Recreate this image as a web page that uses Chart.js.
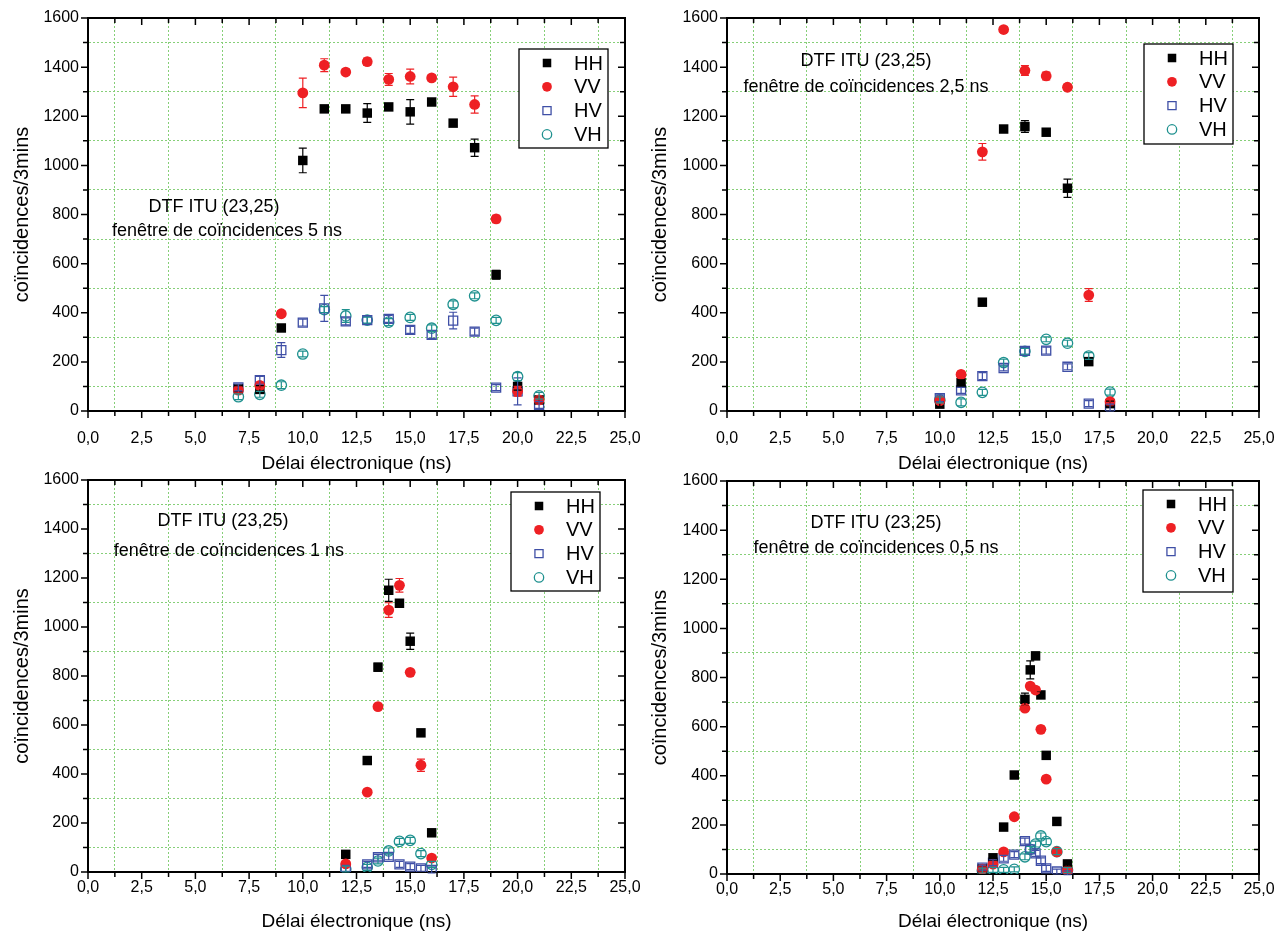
<!DOCTYPE html>
<html>
<head>
<meta charset="utf-8">
<script src="https://cdn.jsdelivr.net/npm/chart.js@4.4.0/dist/chart.umd.min.js"></script>
<style>
  body { margin: 0; background: #fff; width: 1277px; height: 935px; position: relative; overflow: hidden; }
  canvas { position: absolute; }
</style>
</head>
<body>
<canvas id="c1" width="645" height="480" style="left:0;top:0"></canvas>
<canvas id="c2" width="639" height="480" style="left:638px;top:0"></canvas>
<canvas id="c3" width="645" height="470" style="left:0;top:465px"></canvas>
<canvas id="c4" width="639" height="470" style="left:638px;top:465px"></canvas>
<script>
// --- data ---
const seriesNames = ['HH', 'VV', 'HV', 'VH'];

// window 5 ns
const p1X = [7, 8, 9, 10, 11, 12, 13, 14, 15, 16, 17, 18, 19, 20, 21];
const p1HH = [90, 88, 338, 1020, 1230, 1230, 1213, 1238, 1218, 1258, 1172, 1072, 555, 100, 45];
const p1HHerr = [12, 15, 12, 50, 12, 12, 38, 12, 50, 12, 12, 35, 18, 15, 12];
const p1VV = [85, 104, 396, 1295, 1408, 1380, 1422, 1350, 1362, 1356, 1320, 1248, 782, 80, 45];
const p1VVerr = [12, 14, 12, 60, 26, 12, 15, 24, 30, 12, 39, 35, 15, 20, 12];
const p1HV = [96, 125, 248, 360, 418, 365, 370, 375, 330, 310, 368, 323, 95, 80, 25];
const p1HVerr = [14, 16, 30, 14, 53, 14, 14, 14, 14, 14, 34, 14, 12, 55, 14];
const p1VH = [58, 68, 105, 232, 413, 387, 370, 362, 381, 337, 434, 469, 369, 140, 62];
const p1VHerr = [12, 12, 14, 12, 12, 26, 12, 14, 12, 14, 14, 12, 12, 16, 14];

// window 2,5 ns
const p2X = [10, 11, 12, 13, 14, 15, 16, 17, 18];
const p2HH = [28, 115, 443, 1148, 1158, 1135, 907, 201, 30];
const p2HHerr = [10, 12, 14, 14, 24, 12, 37, 14, 10];
const p2VV = [42, 149, 1055, 1553, 1386, 1364, 1318, 472, 38];
const p2VVerr = [10, 12, 34, 12, 20, 16, 12, 26, 12];
const p2HV = [52, 84, 142, 175, 245, 246, 180, 30, 14];
const p2HVerr = [14, 12, 14, 12, 14, 14, 12, 12, 14];
const p2VH = [45, 35, 76, 197, 243, 292, 276, 224, 77];
const p2VHerr = [12, 14, 12, 14, 12, 10, 12, 14, 12];

// window 1 ns
const p3X = [12, 13, 13.5, 14, 14.5, 15, 15.5, 16];
const p3HH = [72, 455, 836, 1150, 1097, 942, 568, 160];
const p3HHerr = [10, 12, 16, 45, 12, 33, 12, 10];
const p3VV = [33, 326, 675, 1069, 1170, 815, 436, 57];
const p3VVerr = [10, 10, 10, 30, 28, 10, 25, 10];
const p3HV = [15, 31, 60, 62, 31, 22, 15, 8];
const p3HVerr = [12, 12, 12, 12, 12, 12, 12, 12];
const p3VH = [12, 19, 45, 86, 125, 129, 75, 31];
const p3VHerr = [12, 12, 12, 12, 12, 12, 12, 12];

// window 0,5 ns
const p4X = [12, 12.5, 13, 13.5, 14, 14.25, 14.5, 14.75, 15, 15.5, 16];
const p4HH = [20, 66, 191, 403, 711, 831, 888, 729, 483, 214, 41];
const p4HHerr = [8, 10, 10, 12, 25, 37, 14, 12, 12, 10, 8];
const p4VV = [20, 40, 90, 233, 675, 765, 749, 589, 386, 90, 15];
const p4VVerr = [8, 8, 10, 10, 12, 12, 12, 12, 12, 10, 8];
const p4HV = [26, 46, 64, 79, 134, 100, 84, 54, 23, 10, 5];
const p4HVerr = [10, 12, 12, 12, 12, 12, 12, 12, 12, 10, 8];
const p4VH = [14, 17, 17, 19, 70, 100, 122, 155, 132, 91, 16];
const p4VHerr = [10, 10, 10, 10, 12, 12, 12, 12, 12, 12, 10];

const xTitle = 'Délai électronique (ns)';
const yTitle = 'coïncidences/3mins';
const noteTop = 'DTF ITU (23,25)';

Chart.defaults.font.family = '"Liberation Sans", Arial, sans-serif';
Chart.defaults.color = '#000';

const GRID = '#86cf78';
const styles = {
  HH: { pointStyle: 'rect', pointRadius: 6.7, backgroundColor: '#000', borderColor: '#000', borderWidth: 0 },
  VV: { pointStyle: 'circle', pointRadius: 5.4, backgroundColor: '#ee2024', borderColor: '#ee2024', borderWidth: 0 },
  HV: { pointStyle: 'rect', pointRadius: 6.4, backgroundColor: 'rgba(0,0,0,0)', borderColor: '#3f4fa6', borderWidth: 1.3 },
  VH: { pointStyle: 'circle', pointRadius: 5.2, backgroundColor: 'rgba(0,0,0,0)', borderColor: '#1f918f', borderWidth: 1.3 }
};

function isMajor(v, step) {
  return Math.abs(v / step - Math.round(v / step)) < 1e-6;
}

// error bars, drawn through the chart's scales
const errorBars = {
  id: 'errorBars',
  afterDatasetsDraw(chart) {
    const { ctx, scales: { x, y } } = chart;
    chart.data.datasets.forEach(ds => {
      ctx.save();
      ctx.strokeStyle = ds.borderColor;
      ctx.lineWidth = 1.2;
      ds.data.forEach((p, j) => {
        const e = ds.errors[j];
        if (!e) return;
        const px = x.getPixelForValue(p.x);
        const y1 = y.getPixelForValue(p.y - e);
        const y2 = y.getPixelForValue(p.y + e);
        ctx.beginPath();
        ctx.moveTo(px, y1); ctx.lineTo(px, y2);
        ctx.moveTo(px - 4, y1); ctx.lineTo(px + 4, y1);
        ctx.moveTo(px - 4, y2); ctx.lineTo(px + 4, y2);
        ctx.stroke();
      });
      ctx.restore();
    });
  }
};

function drawMarker(ctx, st, x, y) {
  ctx.save();
  ctx.fillStyle = st.backgroundColor;
  ctx.strokeStyle = st.borderColor;
  ctx.lineWidth = st.borderWidth;
  ctx.beginPath();
  if (st.pointStyle === 'rect') {
    const h = Math.SQRT1_2 * st.pointRadius;
    ctx.rect(x - h, y - h, 2 * h, 2 * h);
  } else {
    ctx.arc(x, y, st.pointRadius, 0, Math.PI * 2);
  }
  ctx.fill();
  if (st.borderWidth) ctx.stroke();
  ctx.restore();
}

// frame, tick marks, legend box and notes
const deco = {
  id: 'deco',
  afterDraw(chart, args, opts) {
    const { ctx, chartArea: a, scales: { x, y } } = chart;
    ctx.save();
    ctx.strokeStyle = '#000';
    ctx.lineWidth = 2;
    ctx.beginPath();
    ctx.moveTo(a.left - 1, a.top); ctx.lineTo(a.right, a.top); ctx.lineTo(a.right, a.bottom + 1);
    ctx.stroke();
    ctx.lineWidth = 1.5;
    ctx.beginPath();
    for (let v = x.min; v <= x.max + 1e-9; v += 1.25) {
      const px = x.getPixelForValue(v);
      const len = isMajor(v, 2.5) ? 7 : 5;
      ctx.moveTo(px, a.bottom); ctx.lineTo(px, a.bottom + len);
      ctx.moveTo(px, a.top); ctx.lineTo(px, a.top + len);
    }
    for (let v = y.min; v <= y.max; v += 100) {
      const py = y.getPixelForValue(v);
      const len = isMajor(v, 200) ? 7 : 5;
      ctx.moveTo(a.left - len, py); ctx.lineTo(a.left, py);
      ctx.moveTo(a.right - len, py); ctx.lineTo(a.right, py);
    }
    ctx.stroke();

    // legend box
    const L = opts.legend;
    const bx = a.right - L.rightGap - L.w;
    const by = a.top + L.topGap;
    ctx.fillStyle = '#fff';
    ctx.fillRect(bx, by, L.w, L.h);
    ctx.lineWidth = 1.3;
    ctx.strokeRect(bx, by, L.w, L.h);
    ctx.font = '20px "Liberation Sans", Arial, sans-serif';
    ctx.textBaseline = 'middle';
    ctx.textAlign = 'left';
    seriesNames.forEach((name, i) => {
      const ry = by + 14 + i * 23.8;
      const st = Object.assign({}, styles[name], { pointRadius: styles[name].pointRadius * 0.9 });
      drawMarker(ctx, st, bx + 28, ry);
      ctx.fillStyle = '#000';
      ctx.fillText(name, bx + 55, ry + 1);
    });

    // notes placed in data coordinates
    ctx.font = '18px "Liberation Sans", Arial, sans-serif';
    ctx.textAlign = 'center';
    opts.notes.forEach(n => {
      ctx.fillText(n.text, x.getPixelForValue(n.x), y.getPixelForValue(n.y));
    });
    ctx.restore();
  }
};

function makeChart(id, xs, sets, lay) {
  const datasets = seriesNames.map((name, k) => Object.assign({
    label: name,
    data: xs.map((v, i) => ({ x: v, y: sets[k][0][i] })),
    errors: sets[k][1],
    showLine: false,
    order: k === 0 ? 1 : k === 1 ? 0 : k + 1
  }, styles[name]));

  new Chart(document.getElementById(id), {
    type: 'scatter',
    data: { datasets },
    plugins: [errorBars, deco],
    options: {
      responsive: false,
      animation: false,
      devicePixelRatio: 1,
      layout: { padding: { left: 0, top: lay.pt, right: lay.pr, bottom: 0 } },
      scales: {
        x: {
          type: 'linear', min: 0, max: 25,
          afterFit: s => { s.height = lay.xH; s.paddingLeft = 0; s.paddingRight = 0; },
          ticks: {
            stepSize: 1.25, autoSkip: false, maxRotation: 0, padding: lay.xPad,
            font: { size: 16 },
            callback: v => isMajor(v, 2.5) ? v.toFixed(1).replace('.', ',') : ''
          },
          grid: {
            drawTicks: false, lineWidth: 1,
            color: c => (c.tick && !isMajor(c.tick.value, 2.5)) ? GRID : 'rgba(0,0,0,0)'
          },
          border: { color: '#000', width: 2, dash: [2, 2] },
          title: { display: true, text: xTitle, font: { size: 19 }, padding: { top: 0, bottom: lay.xtPad } }
        },
        y: {
          type: 'linear', min: 0, max: 1600,
          afterFit: s => { s.width = lay.yW; s.paddingTop = 0; s.paddingBottom = 0; },
          ticks: {
            stepSize: 100, autoSkip: false, padding: 9, font: { size: 16 },
            callback: v => isMajor(v, 200) ? String(v) : ''
          },
          grid: {
            drawTicks: false, lineWidth: 1,
            color: c => (c.tick && !isMajor(c.tick.value, 200)) ? GRID : 'rgba(0,0,0,0)'
          },
          border: { color: '#000', width: 2, dash: [2, 2] },
          title: { display: true, text: yTitle, font: { size: 20 }, padding: { top: 10, bottom: 0 } }
        }
      },
      plugins: {
        legend: { display: false },
        tooltip: { enabled: false },
        deco: { legend: lay.legend, notes: lay.notes }
      }
    }
  });
}

makeChart('c1', p1X, [[p1HH, p1HHerr], [p1VV, p1VVerr], [p1HV, p1HVerr], [p1VH, p1VHerr]], {
  yW: 88, pr: 20, pt: 18, xH: 69, xPad: 18, xtPad: 5,
  legend: { rightGap: 17, topGap: 31, w: 89, h: 99 },
  notes: [{ text: noteTop, x: 5.87, y: 830 }, { text: 'fenêtre de coïncidences 5 ns', x: 6.47, y: 733 }]
});
makeChart('c2', p2X, [[p2HH, p2HHerr], [p2VV, p2VVerr], [p2HV, p2HVerr], [p2VH, p2VHerr]], {
  yW: 89, pr: 18, pt: 18, xH: 69, xPad: 18, xtPad: 5,
  legend: { rightGap: 26, topGap: 26, w: 89, h: 100 },
  notes: [{ text: noteTop, x: 6.53, y: 1425 }, { text: 'fenêtre de coïncidences 2,5 ns', x: 6.53, y: 1319 }]
});
makeChart('c3', p3X, [[p3HH, p3HHerr], [p3VV, p3VVerr], [p3HV, p3HVerr], [p3VH, p3VHerr]], {
  yW: 88, pr: 20, pt: 15, xH: 63, xPad: 6, xtPad: 2,
  legend: { rightGap: 25, topGap: 12, w: 89, h: 99 },
  notes: [{ text: noteTop, x: 6.28, y: 1433 }, { text: 'fenêtre de coïncidences 1 ns', x: 6.56, y: 1310 }]
});
makeChart('c4', p4X, [[p4HH, p4HHerr], [p4VV, p4VVerr], [p4HV, p4HVerr], [p4VH, p4VHerr]], {
  yW: 89, pr: 18, pt: 16, xH: 61, xPad: 6, xtPad: 2,
  legend: { rightGap: 26, topGap: 9, w: 90, h: 102 },
  notes: [{ text: noteTop, x: 7.0, y: 1429 }, { text: 'fenêtre de coïncidences 0,5 ns', x: 7.0, y: 1327 }]
});
</script>
</body>
</html>
